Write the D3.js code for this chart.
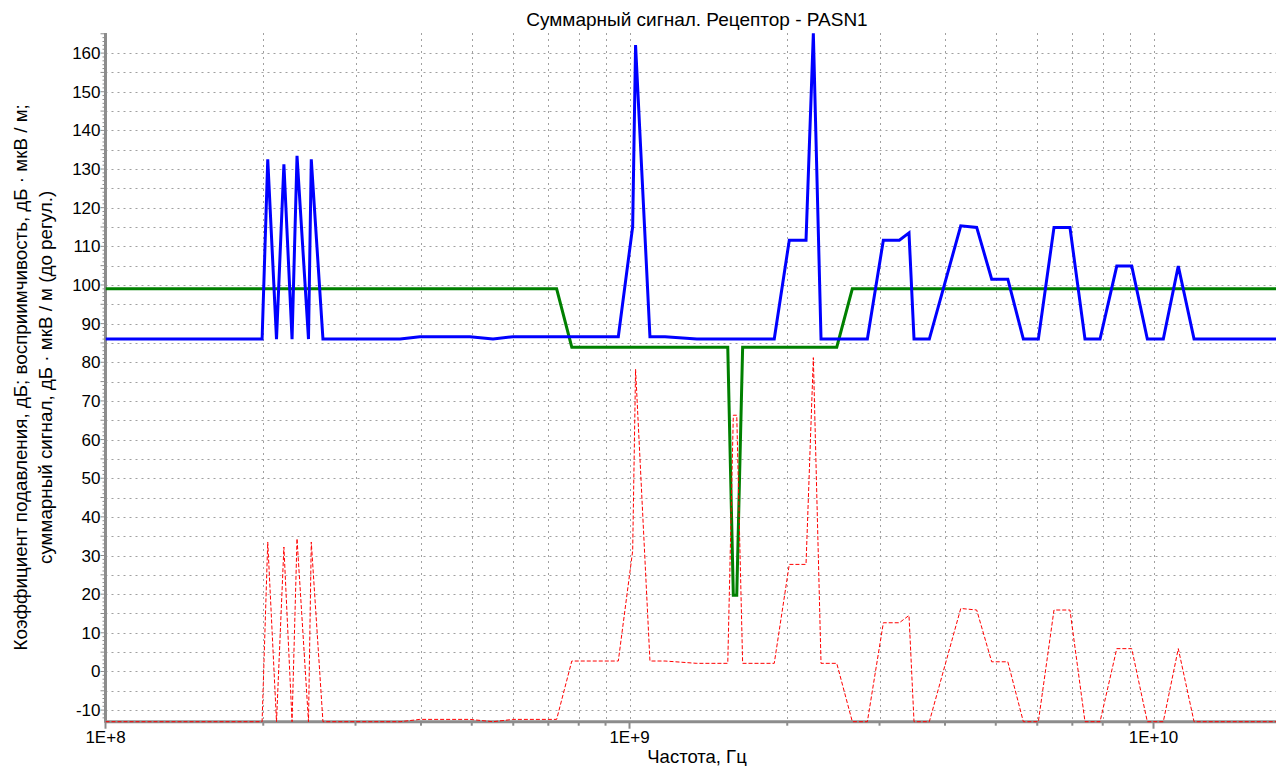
<!DOCTYPE html>
<html>
<head>
<meta charset="utf-8">
<script src="https://cdn.jsdelivr.net/npm/d3@7"></script>
<style>
	body { margin: 0; background: #fff; }
	text { font-family: 'Liberation Sans', Arial, sans-serif; fill: #000; }
</style>
</head>
<body>
<svg id="chart" width="1276" height="766"></svg>
<script>
/*global d3 */
'use strict';

// Susceptibility (blue), Hz / dB
var blueFreq = [1.0e8, 1.99e8, 2.04e8, 2.12e8, 2.19e8, 2.27e8, 2.32e8, 2.44e8, 2.47e8, 2.60e8,
	3.65e8, 3.98e8, 4.96e8, 5.49e8, 5.99e8, 9.52e8, 1.014e9, 1.027e9, 1.094e9, 1.169e9,
	1.344e9, 1.889e9, 2.018e9, 2.172e9, 2.243e9, 2.320e9, 2.844e9, 3.051e9, 3.273e9, 3.415e9,
	3.491e9, 3.734e9, 4.287e9, 4.598e9, 4.911e9, 5.272e9, 5.644e9, 6.029e9, 6.458e9, 6.927e9,
	7.400e9, 7.906e9, 8.509e9, 9.087e9, 9.732e9, 1.044e10, 1.115e10, 1.195e10, 1.713e10];
var blueValues = [86.0, 86.0, 132.5, 86.0, 131.2, 86.0, 133.4, 86.0, 132.5, 86.0,
	86.0, 86.6, 86.6, 86.0, 86.6, 86.6, 115.1, 162.1, 86.6, 86.6,
	86.0, 86.0, 111.6, 111.6, 165.1, 86.0, 86.0, 111.6, 111.6, 113.5,
	86.0, 86.0, 115.3, 114.9, 101.5, 101.5, 86.0, 86.0, 114.9, 114.9,
	86.0, 86.0, 104.9, 104.9, 86.0, 86.0, 104.9, 86.0, 86.0];

// Suppression factor (green)
var greenFreq = [1.0e8, 7.26e8, 7.76e8, 1.540e9, 1.578e9, 1.602e9, 1.644e9, 2.486e9, 2.662e9, 1.713e10];
var greenValues = [99.0, 99.0, 83.9, 83.9, 19.7, 19.7, 83.9, 83.9, 99.0, 99.0];

// Summary signal before regulation (red, dashed)
var redFreq = [1.0e8, 1.99e8, 2.04e8, 2.12e8, 2.19e8, 2.27e8, 2.32e8, 2.44e8, 2.47e8, 2.60e8,
	3.65e8, 3.98e8, 4.96e8, 5.49e8, 5.99e8, 7.26e8, 7.76e8, 9.52e8, 1.014e9, 1.027e9,
	1.094e9, 1.169e9, 1.344e9, 1.540e9, 1.578e9, 1.602e9, 1.644e9, 1.889e9, 2.018e9, 2.172e9,
	2.243e9, 2.320e9, 2.486e9, 2.662e9, 2.844e9, 3.051e9, 3.273e9, 3.415e9, 3.491e9, 3.734e9,
	4.287e9, 4.598e9, 4.911e9, 5.272e9, 5.644e9, 6.029e9, 6.458e9, 6.927e9, 7.400e9, 7.906e9,
	8.509e9, 9.087e9, 9.732e9, 1.044e10, 1.115e10, 1.195e10, 1.713e10];
var redValues = [-13.0, -13.0, 33.5, -13.0, 32.2, -13.0, 34.4, -13.0, 33.5, -13.0,
	-13.0, -12.4, -12.4, -13.0, -12.4, -12.4, 2.7, 2.7, 31.2, 78.2,
	2.7, 2.7, 2.1, 2.1, 66.3, 66.3, 2.1, 2.1, 27.7, 27.7,
	81.2, 2.1, 2.1, -13.0, -13.0, 12.6, 12.6, 14.5, -13.0, -13.0,
	16.3, 15.9, 2.5, 2.5, -13.0, -13.0, 15.9, 15.9, -13.0, -13.0,
	5.9, 5.9, -13.0, -13.0, 5.9, -13.0, -13.0];

var xDomain = [1e8, 1.713e10];
var yDomain = [-13, 165.2];
var xLabelTicks = [1e8, 1e9, 1e10];
var xLabelText = ['1E+8', '1E+9', '1E+10'];
var yLabelTicks = [-10, 0, 10, 20, 30, 40, 50, 60, 70, 80, 90, 100, 110, 120, 130, 140, 150, 160];

var chartTitle = 'Суммарный сигнал. Рецептор - PASN1';
var xTitle = 'Частота, Гц';
var yTitleLines = ['Коэффициент подавления, дБ; восприимчивость, дБ · мкВ / м;',
	'суммарный сигнал, дБ · мкВ / м (до регул.)'];

var plot = { left: 105.5, right: 1276, top: 33, bottom: 721.7 };
var axisGray = '#8c8c8c';
var gridGray = '#a0a0a0';

var svg = d3.select('#chart');

var x_scale = d3.scaleLog().domain(xDomain).range([plot.left, plot.right]);
var y_scale = d3.scaleLinear().domain(yDomain).range([plot.bottom, plot.top]);

// Grid positions: every 1..9 x decade, every 5 units vertically
var xGrid = [];
[1e8, 1e9, 1e10].forEach(function (dec) {
	for (var k = 1; k < 10; k++) {
		var f = dec * k;
		if (f > xDomain[0] && f <= xDomain[1]) { xGrid.push(f); }
	}
});
var yGrid = d3.range(-10, 161, 5);
var yMinor = d3.range(-12, 166, 1);

var grid = svg.append('g').attr('class', 'grid');

grid.selectAll('line.vgrid')
	.data(xGrid)
	.enter().append('line')
	.attr('class', 'vgrid')
	.attr('x1', function (d) { return Math.round(x_scale(d)) + 0.5; })
	.attr('x2', function (d) { return Math.round(x_scale(d)) + 0.5; })
	.attr('y1', plot.top)
	.attr('y2', plot.bottom)
	.attr('stroke', gridGray)
	.attr('stroke-width', 1)
	.attr('stroke-dasharray', '2,4');

grid.selectAll('line.hgrid')
	.data(yGrid)
	.enter().append('line')
	.attr('class', 'hgrid')
	.attr('x1', plot.left)
	.attr('x2', plot.right)
	.attr('y1', function (d) { return Math.round(y_scale(d)) + 0.5; })
	.attr('y2', function (d) { return Math.round(y_scale(d)) + 0.5; })
	.attr('stroke', gridGray)
	.attr('stroke-width', 1)
	.attr('stroke-dasharray', '2,4');

// Axes
var axes = svg.append('g').attr('class', 'axes');

axes.selectAll('line.ytick')
	.data(yMinor)
	.enter().append('line')
	.attr('class', 'ytick')
	.attr('x1', function (d) { return plot.left - (d % 5 === 0 ? 5 : 3); })
	.attr('x2', plot.left)
	.attr('y1', function (d) { return y_scale(d); })
	.attr('y2', function (d) { return y_scale(d); })
	.attr('stroke', axisGray)
	.attr('stroke-width', 1);

axes.selectAll('line.xtick')
	.data(xGrid.concat([1e8]))
	.enter().append('line')
	.attr('class', 'xtick')
	.attr('x1', function (d) { return x_scale(d); })
	.attr('x2', function (d) { return x_scale(d); })
	.attr('y1', plot.bottom)
	.attr('y2', function (d) { return plot.bottom + (xLabelTicks.indexOf(d) >= 0 ? 7 : 4); })
	.attr('stroke', axisGray)
	.attr('stroke-width', 2);

axes.append('line')
	.attr('x1', plot.left).attr('x2', plot.left)
	.attr('y1', plot.top).attr('y2', plot.bottom + 1)
	.attr('stroke', axisGray).attr('stroke-width', 3);

axes.append('line')
	.attr('x1', plot.left).attr('x2', plot.right)
	.attr('y1', plot.bottom).attr('y2', plot.bottom)
	.attr('stroke', axisGray).attr('stroke-width', 3);

axes.selectAll('text.ylabel')
	.data(yLabelTicks)
	.enter().append('text')
	.attr('class', 'ylabel')
	.attr('x', plot.left - 5)
	.attr('y', function (d) { return y_scale(d) + 6; })
	.attr('text-anchor', 'end')
	.style('font-size', '17px')
	.text(function (d) { return d; });

axes.selectAll('text.xlabel')
	.data(xLabelTicks)
	.enter().append('text')
	.attr('class', 'xlabel')
	.attr('x', function (d) { return x_scale(d); })
	.attr('y', 743)
	.attr('text-anchor', 'middle')
	.style('font-size', '17px')
	.text(function (d, i) { return xLabelText[i]; });

// Titles
svg.append('text')
	.attr('x', 697)
	.attr('y', 26)
	.attr('text-anchor', 'middle')
	.style('font-size', '19px')
	.text(chartTitle);

svg.append('text')
	.attr('x', 697)
	.attr('y', 763)
	.attr('text-anchor', 'middle')
	.style('font-size', '18.5px')
	.text(xTitle);

svg.selectAll('text.ytitle')
	.data(yTitleLines)
	.enter().append('text')
	.attr('class', 'ytitle')
	.attr('transform', function (d, i) {
		return 'translate(' + (27 + i * 25) + ',' + ((plot.top + plot.bottom) / 2) + ') rotate(-90)';
	})
	.attr('text-anchor', 'middle')
	.style('font-size', '18.8px')
	.text(function (d) { return d; });

// Series lines, clipped to the plot area
svg.append('clipPath')
	.attr('id', 'plotClip')
	.append('rect')
	.attr('x', plot.left)
	.attr('y', plot.top)
	.attr('width', plot.right - plot.left)
	.attr('height', plot.bottom - plot.top + 2);

var series = [
	{ freq: redFreq, values: redValues, color: '#ff0000', width: 1, dash: '4,2' },
	{ freq: greenFreq, values: greenValues, color: '#008000', width: 3, dash: null },
	{ freq: blueFreq, values: blueValues, color: '#0000ff', width: 3, dash: null }
];

var lineGen = d3.line()
	.x(function (d) { return x_scale(d[0]); })
	.y(function (d) { return y_scale(d[1]); });

svg.append('g')
	.attr('clip-path', 'url(#plotClip)')
	.selectAll('path.series')
	.data([series[1], series[2], series[0]])
	.enter().append('path')
	.attr('class', 'series')
	.attr('d', function (s) { return lineGen(d3.zip(s.freq, s.values)); })
	.attr('fill', 'none')
	.attr('stroke', function (s) { return s.color; })
	.attr('stroke-width', function (s) { return s.width; })
	.attr('stroke-dasharray', function (s) { return s.dash; })
	.attr('stroke-linejoin', 'miter');
</script>
</body>
</html>
